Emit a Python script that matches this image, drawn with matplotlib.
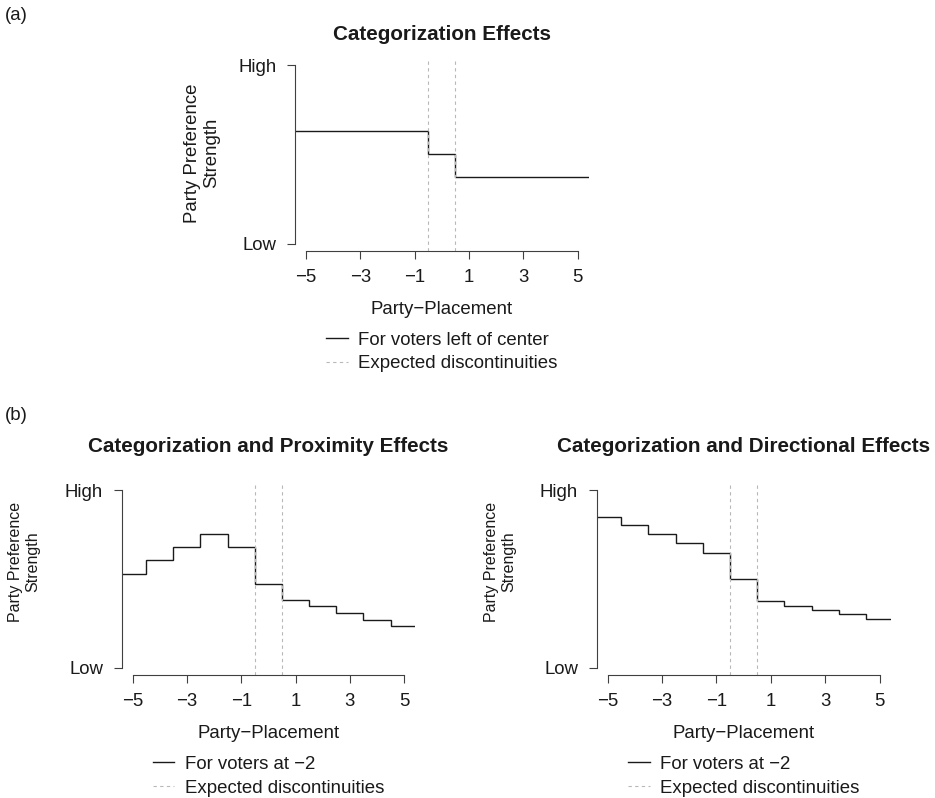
import numpy as np
import matplotlib
matplotlib.use("Agg")
import matplotlib.pyplot as plt
from matplotlib.lines import Line2D

plt.rcParams['font.family'] = ['Liberation Sans', 'DejaVu Sans']
plt.rcParams['axes.unicode_minus'] = True

# ---------------- data ----------------
positions = np.arange(-5, 6)            # party placement categories -5 .. 5
x_ticks = [-5, -3, -1, 1, 3, 5]
y_tick_values = [0, 1]
y_tick_labels = ['Low', 'High']
discontinuities = [-0.5, 0.5]

categorization = [0.632, 0.632, 0.632, 0.632, 0.632, 0.504,
                  0.371, 0.371, 0.371, 0.371, 0.371]
proximity = [0.530, 0.607, 0.680, 0.756, 0.680, 0.475,
             0.383, 0.346, 0.308, 0.271, 0.235]
directional = [0.852, 0.803, 0.752, 0.701, 0.650, 0.502,
               0.376, 0.351, 0.325, 0.301, 0.276]

titles = ['Categorization Effects',
          'Categorization and Proximity Effects',
          'Categorization and Directional Effects']
legend_first = ['For voters left of center', 'For voters at \u22122', 'For voters at \u22122']
legend_second = 'Expected discontinuities'
xlabel = 'Party\u2212Placement'
ylabel = 'Party Preference\nStrength'

# ---------------- style ----------------
W, H = 935, 798
FS = 13.46
TFS = 14.9
LINE_C = '#1a1a1a'
AX_C = '#404040'
DASH_C = '#b8b8b8'
edges = np.append(positions - 0.5, positions[-1] + 0.5)

fig = plt.figure(figsize=(W / 100, H / 100), dpi=100)


def fx(px):
    return px / W


def fy(py):
    return 1 - py / H


def make_axes(left, right, top, bottom):
    return fig.add_axes([fx(left), fy(bottom), fx(right) - fx(left), fy(top) - fy(bottom)])


def draw_panel(ax, values, legend_label, title, title_xy,
               ylab_xy, ylab_fs, xlab_y, legend_top):
    ax.stairs(values, edges, baseline=None, color=LINE_C, lw=1.0)
    for d in discontinuities:
        ax.axvline(d, color=DASH_C, lw=0.8, dashes=(3, 3))
    ax.set_xlim(-5.4, 5.4)
    ax.set_ylim(-0.04, 1.04)
    for s in ['top', 'right']:
        ax.spines[s].set_visible(False)
    ax.spines['left'].set_bounds(0, 1)
    ax.spines['bottom'].set_bounds(-5, 5)
    for s in ['left', 'bottom']:
        ax.spines[s].set_color(AX_C)
        ax.spines[s].set_linewidth(0.8)
    ax.set_xticks(x_ticks)
    ax.set_yticks(y_tick_values, y_tick_labels)
    ax.tick_params(length=5.8, width=0.8, color=AX_C, labelsize=FS,
                   labelcolor='#1a1a1a', pad=7.5)
    ax.patch.set_visible(False)

    fig.text(fx(title_xy[0]), fy(title_xy[1]), title, ha='center', va='center',
             fontsize=TFS, fontweight='bold', color='#1a1a1a')
    fig.text(fx(ylab_xy[0]), fy(ylab_xy[1]), ylabel, ha='center', va='center',
             rotation=90, fontsize=ylab_fs, color='#1a1a1a',
             multialignment='center', linespacing=1.15)
    bb = ax.get_position()
    cx = (bb.x0 + bb.x1) / 2
    fig.text(cx, fy(xlab_y), xlabel, ha='center', va='center', fontsize=FS,
             color='#1a1a1a')
    handles = [Line2D([], [], color=LINE_C, lw=1.0),
               Line2D([], [], color=DASH_C, lw=0.8, dashes=(3, 3))]
    fig.legend(handles, [legend_label, legend_second], loc='upper center',
               bbox_to_anchor=(cx, fy(legend_top)), frameon=False, fontsize=FS,
               handlelength=1.16, handletextpad=0.55, labelspacing=0.35,
               borderpad=0, borderaxespad=0, labelcolor='#1a1a1a')


ax_a = make_axes(295, 588.7, 58.3, 250.7)
draw_panel(ax_a, categorization, legend_first[0], titles[0], (441.8, 35),
           (202, 153), FS, 310, 331.6)

ax_b1 = make_axes(121.7, 415, 483.3, 675)
draw_panel(ax_b1, proximity, legend_first[1], titles[1], (268.3, 446),
           (24.3, 562), 11.5, 734, 755.9)

ax_b2 = make_axes(596.7, 890.5, 483.3, 675)
draw_panel(ax_b2, directional, legend_first[2], titles[2], (743.6, 446),
           (500, 562), 11.5, 734, 755.9)

fig.text(fx(5), fy(16), '(a)', ha='left', va='center', fontsize=FS, color='#1a1a1a')
fig.text(fx(5), fy(416), '(b)', ha='left', va='center', fontsize=FS, color='#1a1a1a')

fig.savefig('out.png', dpi=100, facecolor='white')
